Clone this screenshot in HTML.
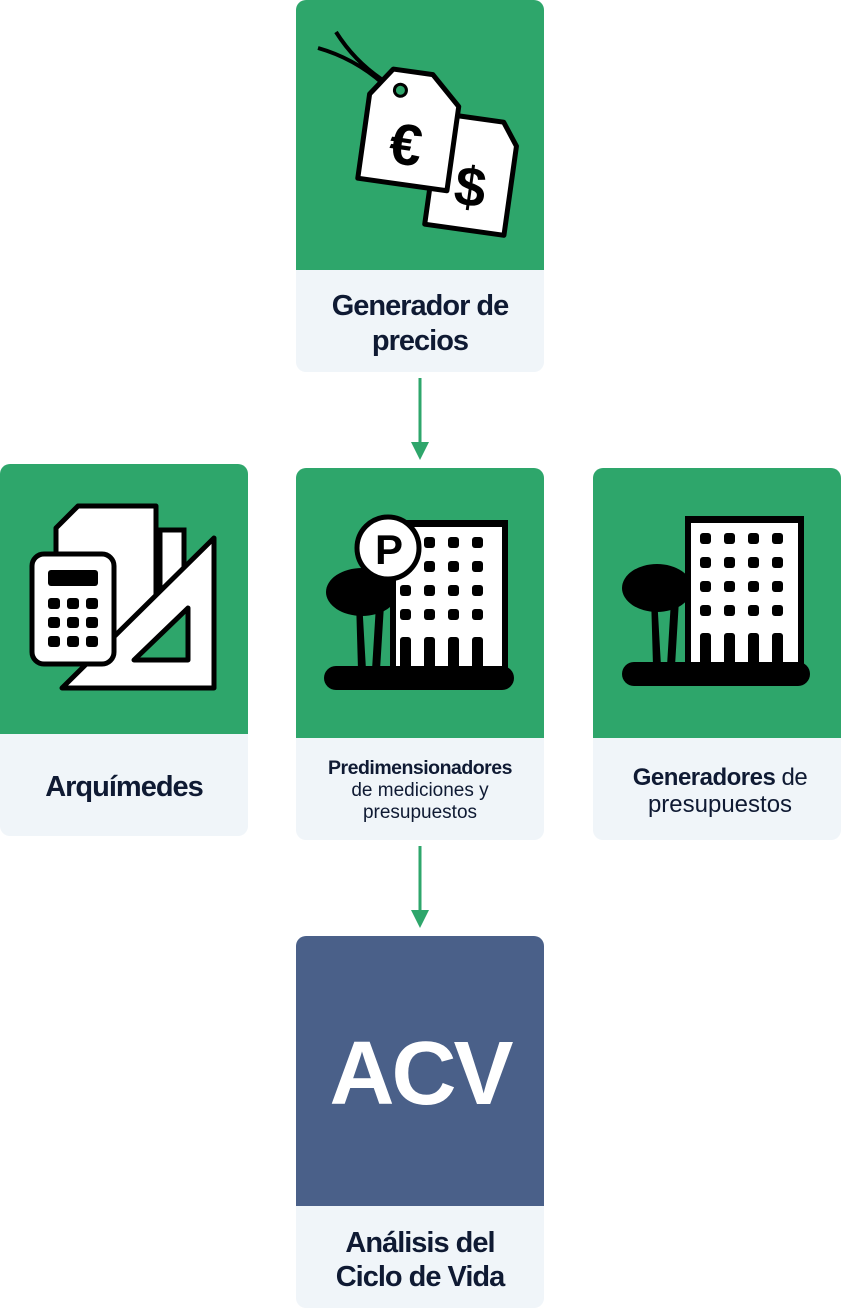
<!DOCTYPE html>
<html><head><meta charset="utf-8"><style>
body{margin:0;background:#fff}
svg{display:block}
text{font-family:"Liberation Sans",sans-serif;fill:#0f1a33}
</style></head><body>
<svg width="842" height="1308" viewBox="0 0 842 1308" xmlns="http://www.w3.org/2000/svg">
<defs>
<clipPath id="c1"><rect x="296" y="0" width="248" height="372" rx="10"/></clipPath>
</defs>
<!-- Card 1 -->
<rect x="296" y="0" width="248" height="372" rx="10" fill="#f0f5f9"/>
<path d="M306 0h228a10 10 0 0 1 10 10v260h-248v-260a10 10 0 0 1 10-10z" fill="#2ea66b"/>
<!-- tags -->
<path d="M318 48 Q360 60 392 92 M336 32 Q360 70 400 90" stroke="#000" stroke-width="4" fill="none"/>
<g transform="rotate(8 470 175)">
<path d="M448 118 L496 118 L512 140 L512 230 L432 230 L432 140 Z" fill="#fff" stroke="#000" stroke-width="5" stroke-linejoin="round"/>
<text x="472" y="206" font-size="56" font-weight="bold" text-anchor="middle" fill="#000" style="fill:#000">$</text>
</g>
<g transform="rotate(8 410 130)">
<path d="M385 72 L425 72 L455 100 L455 185 L365 185 L365 100 Z" fill="#fff" stroke="#000" stroke-width="5" stroke-linejoin="round"/>
<circle cx="395" cy="92" r="6" fill="#2ea66b" stroke="#000" stroke-width="3"/>
<text x="408" y="165" font-size="58" font-weight="bold" text-anchor="middle" style="fill:#000">€</text>
</g>
<text x="420" y="315" font-size="29" font-weight="bold" text-anchor="middle" letter-spacing="-1">Generador de</text>
<text x="420" y="350" font-size="29" font-weight="bold" text-anchor="middle" letter-spacing="-1">precios</text>
<!-- arrow 1 -->
<line x1="420" y1="378" x2="420" y2="446" stroke="#2ea66b" stroke-width="3"/>
<path d="M411 442 L429 442 L420 460 Z" fill="#2ea66b"/>

<!-- Left card -->
<rect x="0" y="464" width="248" height="372" rx="10" fill="#f0f5f9"/>
<path d="M10 464h228a10 10 0 0 1 10 10v260h-248v-260a10 10 0 0 1 10-10z" fill="#2ea66b"/>
<path d="M78 506 L156 506 L156 640 L56 640 L56 528 Z" fill="#fff" stroke="#000" stroke-width="5" stroke-linejoin="round"/>
<path d="M160 530 L184 530 L184 640 L160 640 Z" fill="#fff" stroke="#000" stroke-width="5"/>
<path d="M214 538 L214 688 L62 688 Z" fill="#fff" stroke="#000" stroke-width="5" stroke-linejoin="round"/>
<path d="M188 608 L188 660 L134 660 Z" fill="#2ea66b" stroke="#000" stroke-width="5" stroke-linejoin="round"/>
<rect x="32" y="554" width="82" height="110" rx="12" fill="#fff" stroke="#000" stroke-width="5"/>
<rect x="48" y="570" width="50" height="16" rx="3" fill="#000"/>
<g fill="#000">
<rect x="48" y="598" width="12" height="11" rx="3"/><rect x="67" y="598" width="12" height="11" rx="3"/><rect x="86" y="598" width="12" height="11" rx="3"/>
<rect x="48" y="617" width="12" height="11" rx="3"/><rect x="67" y="617" width="12" height="11" rx="3"/><rect x="86" y="617" width="12" height="11" rx="3"/>
<rect x="48" y="636" width="12" height="11" rx="3"/><rect x="67" y="636" width="12" height="11" rx="3"/><rect x="86" y="636" width="12" height="11" rx="3"/>
</g>
<text x="124" y="796" font-size="29" font-weight="bold" text-anchor="middle" letter-spacing="-1">Arquímedes</text>

<!-- Middle card -->
<rect x="296" y="468" width="248" height="372" rx="10" fill="#f0f5f9"/>
<path d="M306 468h228a10 10 0 0 1 10 10v260h-248v-260a10 10 0 0 1 10-10z" fill="#2ea66b"/>
<ellipse cx="362" cy="592" rx="36" ry="24" fill="#000"/>
<path d="M356 600 L358 670 L366 670 L362 600 Z M376 605 L372 670 L380 670 L384 605 Z" fill="#000"/>
<rect x="390" y="520" width="118" height="152" fill="#000"/>
<rect x="396" y="527" width="106" height="145" fill="#fff"/>
<g fill="#000">
<rect x="424" y="537" width="11" height="11" rx="3"/><rect x="448" y="537" width="11" height="11" rx="3"/><rect x="472" y="537" width="11" height="11" rx="3"/>
<rect x="400" y="561" width="11" height="11" rx="3"/><rect x="424" y="561" width="11" height="11" rx="3"/><rect x="448" y="561" width="11" height="11" rx="3"/><rect x="472" y="561" width="11" height="11" rx="3"/>
<rect x="400" y="585" width="11" height="11" rx="3"/><rect x="424" y="585" width="11" height="11" rx="3"/><rect x="448" y="585" width="11" height="11" rx="3"/><rect x="472" y="585" width="11" height="11" rx="3"/>
<rect x="400" y="609" width="11" height="11" rx="3"/><rect x="424" y="609" width="11" height="11" rx="3"/><rect x="448" y="609" width="11" height="11" rx="3"/><rect x="472" y="609" width="11" height="11" rx="3"/>
<rect x="400" y="637" width="11" height="34" rx="3"/><rect x="424" y="637" width="11" height="34" rx="3"/><rect x="448" y="637" width="11" height="34" rx="3"/><rect x="472" y="637" width="11" height="34" rx="3"/>
</g>
<circle cx="388" cy="548" r="31" fill="#fff" stroke="#000" stroke-width="5"/>
<text x="389" y="564" font-size="42" font-weight="bold" text-anchor="middle" style="fill:#000">P</text>
<rect x="324" y="666" width="190" height="24" rx="12" fill="#000"/>
<text x="420" y="774" font-size="19.5" font-weight="bold" text-anchor="middle" letter-spacing="-0.5">Predimensionadores</text>
<text x="420" y="796" font-size="19" text-anchor="middle">de mediciones y</text>
<text x="420" y="818" font-size="19" text-anchor="middle">presupuestos</text>

<!-- Right card -->
<rect x="593" y="468" width="248" height="372" rx="10" fill="#f0f5f9"/>
<path d="M603 468h228a10 10 0 0 1 10 10v260h-248v-260a10 10 0 0 1 10-10z" fill="#2ea66b"/>
<ellipse cx="657" cy="588" rx="35" ry="24" fill="#000"/>
<path d="M651 596 L653 666 L661 666 L657 596 Z M671 600 L667 666 L675 666 L679 600 Z" fill="#000"/>
<rect x="685" y="516" width="119" height="150" fill="#000"/>
<rect x="691" y="523" width="107" height="143" fill="#fff"/>
<g fill="#000">
<rect x="700" y="533" width="11" height="11" rx="3"/><rect x="724" y="533" width="11" height="11" rx="3"/><rect x="748" y="533" width="11" height="11" rx="3"/><rect x="772" y="533" width="11" height="11" rx="3"/>
<rect x="700" y="557" width="11" height="11" rx="3"/><rect x="724" y="557" width="11" height="11" rx="3"/><rect x="748" y="557" width="11" height="11" rx="3"/><rect x="772" y="557" width="11" height="11" rx="3"/>
<rect x="700" y="581" width="11" height="11" rx="3"/><rect x="724" y="581" width="11" height="11" rx="3"/><rect x="748" y="581" width="11" height="11" rx="3"/><rect x="772" y="581" width="11" height="11" rx="3"/>
<rect x="700" y="605" width="11" height="11" rx="3"/><rect x="724" y="605" width="11" height="11" rx="3"/><rect x="748" y="605" width="11" height="11" rx="3"/><rect x="772" y="605" width="11" height="11" rx="3"/>
<rect x="700" y="633" width="11" height="34" rx="3"/><rect x="724" y="633" width="11" height="34" rx="3"/><rect x="748" y="633" width="11" height="34" rx="3"/><rect x="772" y="633" width="11" height="34" rx="3"/>
</g>
<rect x="622" y="662" width="188" height="24" rx="12" fill="#000"/>
<text x="720" y="785" font-size="24" text-anchor="middle" letter-spacing="-0.5"><tspan font-weight="bold">Generadores</tspan> de</text>
<text x="720" y="812" font-size="24" text-anchor="middle">presupuestos</text>

<!-- arrow 2 -->
<line x1="420" y1="846" x2="420" y2="914" stroke="#2ea66b" stroke-width="3"/>
<path d="M411 910 L429 910 L420 928 Z" fill="#2ea66b"/>

<!-- ACV card -->
<rect x="296" y="936" width="248" height="372" rx="10" fill="#f0f5f9"/>
<path d="M306 936h228a10 10 0 0 1 10 10v260h-248v-260a10 10 0 0 1 10-10z" fill="#4a6089"/>
<text x="420" y="1104" font-size="90" font-weight="bold" text-anchor="middle" letter-spacing="-3" style="fill:#fff">ACV</text>
<text x="420" y="1252" font-size="29" font-weight="bold" text-anchor="middle" letter-spacing="-1">Análisis del</text>
<text x="420" y="1286" font-size="29" font-weight="bold" text-anchor="middle" letter-spacing="-1">Ciclo de Vida</text>
</svg>
</body></html>
